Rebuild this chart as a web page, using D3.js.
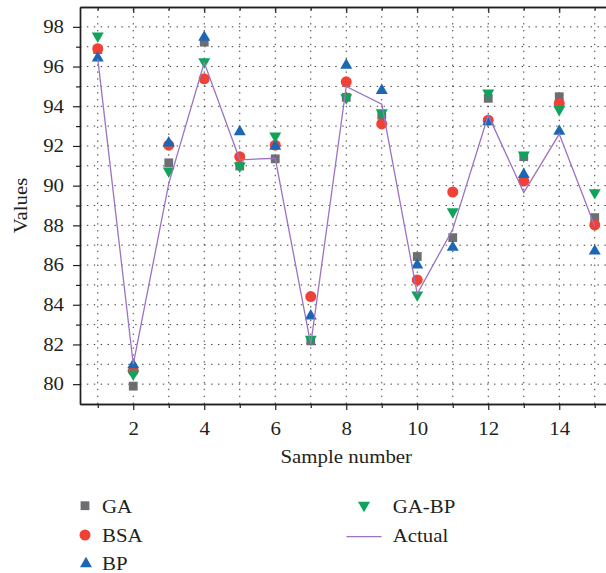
<!DOCTYPE html>
<html>
<head>
<meta charset="utf-8">
<script src="https://cdn.jsdelivr.net/npm/d3@7"></script>
<style>
  html, body { margin: 0; padding: 0; background: #fff; }
  svg { display: block; }
  text { font-family: "Liberation Serif", "Times New Roman", serif; fill: #231f20; }
</style>
</head>
<body>
<svg id="chart" width="606" height="573"></svg>
<script>
// Sample numbers on the x axis
const samples = [1, 2, 3, 4, 5, 6, 7, 8, 9, 10, 11, 12, 13, 14, 15];

// Predicted values of each model and the measured values
const gaValues    = [96.85, 79.90, 91.15, 97.23, 90.99, 91.35, 82.18, 94.45, 93.55, 86.43, 87.38, 94.40, 91.46, 94.48, 88.39];
const bsaValues   = [96.90, 80.67, 92.04, 95.38, 91.46, 92.04, 84.41, 95.23, 93.11, 85.25, 89.68, 93.30, 90.23, 94.14, 88.02];
const bpValues    = [96.52, 81.06, 92.24, 97.56, 92.80, 92.07, 83.52, 96.15, 94.88, 86.09, 86.98, 93.30, 90.65, 92.83, 86.79];
const gabpValues  = [97.45, 80.42, 90.65, 96.15, 90.90, 92.41, 82.18, 94.34, 93.59, 84.41, 88.60, 94.58, 91.46, 93.75, 89.56];
const actualValues = [96.40, 81.00, 90.10, 96.20, 91.30, 91.38, 82.00, 95.00, 94.10, 84.55, 87.80, 93.55, 89.65, 92.60, 87.95];

// Axis ticks
const xMajorTicks = [2, 4, 6, 8, 10, 12, 14];
const xMinorTicks = [1, 3, 5, 7, 9, 11, 13, 15];
const yMajorTicks = [80, 82, 84, 86, 88, 90, 92, 94, 96, 98];
const yMinorTicks = [81, 83, 85, 87, 89, 91, 93, 95, 97];

const xTitle = "Sample number";
const yTitle = "Values";

// ---------------------------------------------------------------
const svg = d3.select("#chart");
const SX = 1.16;            // horizontal stretch applied to the serif text
const axisColor = "#231f20";
const fontSize = 18;

const x = d3.scaleLinear().domain([0.5, 15.5]).range([80, 612.5]);
const y = d3.scaleLinear().domain([79, 99]).range([404, 7]);

const series = [
  { name: "GA",    values: gaValues,   color: "#6d6e71", shape: "square" },
  { name: "BSA",   values: bsaValues,  color: "#ef4136", shape: "circle" },
  { name: "BP",    values: bpValues,   color: "#1b67b3", shape: "triUp" },
  { name: "GA-BP", values: gabpValues, color: "#0fa35b", shape: "triDown" }
];
const actualColor = "#9c72c2";

// marker path generators centred on (0,0)
function markerPath(shape) {
  const p = d3.path();
  if (shape === "square") {
    const s = 8.8;
    p.rect(-s / 2, -s / 2, s, s);
  } else if (shape === "circle") {
    p.arc(0, 0, 5.5, 0, 2 * Math.PI);
  } else if (shape === "triUp") {
    const w = 12, h = 10.4;
    p.moveTo(0, -h / 2); p.lineTo(w / 2, h / 2); p.lineTo(-w / 2, h / 2); p.closePath();
  } else {
    const w = 12, h = 10.4;
    p.moveTo(0, h / 2); p.lineTo(w / 2, -h / 2); p.lineTo(-w / 2, -h / 2); p.closePath();
  }
  return p.toString();
}

function stretchLabels(sel) {
  sel.selectAll("text").each(function () {
    const t = d3.select(this);
    const xv = +t.attr("x") || 0;
    t.attr("x", xv / SX).attr("transform", `scale(${SX},1)`);
  });
}

// ---- dotted grid
const grid = svg.append("g").attr("class", "grid")
  .attr("stroke", "#3a3a3a").attr("stroke-width", 1)
  .attr("stroke-dasharray", "1.4,5.5");
grid.selectAll("line.v").data(samples).join("line").attr("class", "v")
  .attr("x1", d => x(d)).attr("x2", d => x(d))
  .attr("y1", y.range()[0]).attr("y2", y.range()[1]);
grid.selectAll("line.h").data(d3.range(80, 99)).join("line").attr("class", "h")
  .attr("x1", x.range()[0]).attr("x2", x.range()[1])
  .attr("y1", d => y(d)).attr("y2", d => y(d));

// ---- axes
function styleAxis(g) {
  g.selectAll("path.domain").attr("stroke", axisColor).attr("stroke-width", 1.4);
  g.selectAll(".tick line").attr("stroke", axisColor).attr("stroke-width", 1.2);
  g.selectAll("text").attr("fill", axisColor)
    .style("font-family", '"Liberation Serif", "Times New Roman", serif')
    .style("font-size", fontSize + "px");
}

// bottom
const xAxisMinor = svg.append("g").attr("transform", `translate(0,${y.range()[0]})`)
  .call(d3.axisBottom(x).tickValues(xMinorTicks).tickSize(4).tickSizeOuter(0).tickFormat(""));
styleAxis(xAxisMinor);
const xAxis = svg.append("g").attr("transform", `translate(0,${y.range()[0]})`)
  .call(d3.axisBottom(x).tickValues(xMajorTicks).tickSize(6).tickSizeOuter(0).tickPadding(12.2));
styleAxis(xAxis);
stretchLabels(xAxis);

// top (ticks point inward)
const topMinor = svg.append("g").attr("transform", `translate(0,${y.range()[1]})`)
  .call(d3.axisTop(x).tickValues(xMinorTicks).tickSize(-3.5).tickSizeOuter(0).tickFormat(""));
styleAxis(topMinor);
const topMajor = svg.append("g").attr("transform", `translate(0,${y.range()[1]})`)
  .call(d3.axisTop(x).tickValues(xMajorTicks).tickSize(-6).tickSizeOuter(0).tickFormat(""));
styleAxis(topMajor);

// left
const yAxisMinor = svg.append("g").attr("transform", `translate(${x.range()[0]},0)`)
  .call(d3.axisLeft(y).tickValues(yMinorTicks).tickSize(4).tickSizeOuter(0).tickFormat(""));
styleAxis(yAxisMinor);
const yAxis = svg.append("g").attr("transform", `translate(${x.range()[0]},0)`)
  .call(d3.axisLeft(y).tickValues(yMajorTicks).tickSize(7).tickSizeOuter(0).tickPadding(9));
styleAxis(yAxis);
stretchLabels(yAxis);

// right frame edge
const rightAxis = svg.append("g").attr("transform", `translate(${x.range()[1]},0)`)
  .call(d3.axisRight(y).tickValues([]).tickSizeOuter(0));
styleAxis(rightAxis);

// ---- axis titles
svg.append("text")
  .attr("transform", `translate(${(x.range()[0] + x.range()[1]) / 2},463) scale(${SX},1)`)
  .attr("text-anchor", "middle").style("font-size", fontSize + "px")
  .text(xTitle);
svg.append("text")
  .attr("transform", `translate(27,${(y.range()[0] + y.range()[1]) / 2}) rotate(-90) scale(${SX},1)`)
  .attr("text-anchor", "middle").style("font-size", fontSize + "px")
  .text(yTitle);

// ---- markers
const plot = svg.append("g");
series.forEach(s => {
  plot.append("g").selectAll("path")
    .data(samples.map((n, i) => ({ n, v: s.values[i] })))
    .join("path")
    .attr("d", markerPath(s.shape))
    .attr("transform", d => `translate(${x(d.n)},${y(d.v)})`)
    .attr("fill", s.color);
});

// ---- measured line
const line = d3.line().x((d, i) => x(samples[i])).y(d => y(d));
plot.append("path")
  .datum(actualValues)
  .attr("d", line)
  .attr("fill", "none")
  .attr("stroke", actualColor)
  .attr("stroke-width", 1.3);

// ---- legend
const legend = svg.append("g").attr("class", "legend");
const legendItems = [
  { label: "GA",     shape: "square",  color: series[0].color, mx: 85, my: 505.7, tx: 102, ty: 513 },
  { label: "BSA",    shape: "circle",  color: series[1].color, mx: 85, my: 535,   tx: 102, ty: 542 },
  { label: "BP",     shape: "triUp",   color: series[2].color, mx: 86, my: 562,   tx: 102, ty: 570 },
  { label: "GA-BP",  shape: "triDown", color: series[3].color, mx: 364, my: 507,  tx: 392.7, ty: 513 },
  { label: "Actual", shape: "line",    color: actualColor,     mx: 364, my: 536.7, tx: 392.7, ty: 542 }
];
legendItems.forEach(it => {
  if (it.shape === "line") {
    legend.append("line")
      .attr("x1", it.mx - 17.5).attr("x2", it.mx + 17.5)
      .attr("y1", it.my).attr("y2", it.my)
      .attr("stroke", it.color).attr("stroke-width", 1.3);
  } else {
    legend.append("path")
      .attr("d", markerPath(it.shape))
      .attr("transform", `translate(${it.mx},${it.my})`)
      .attr("fill", it.color);
  }
  legend.append("text")
    .attr("transform", `translate(${it.tx},${it.ty}) scale(${SX},1)`)
    .style("font-size", fontSize + "px")
    .text(it.label);
});
</script>
</body>
</html>
